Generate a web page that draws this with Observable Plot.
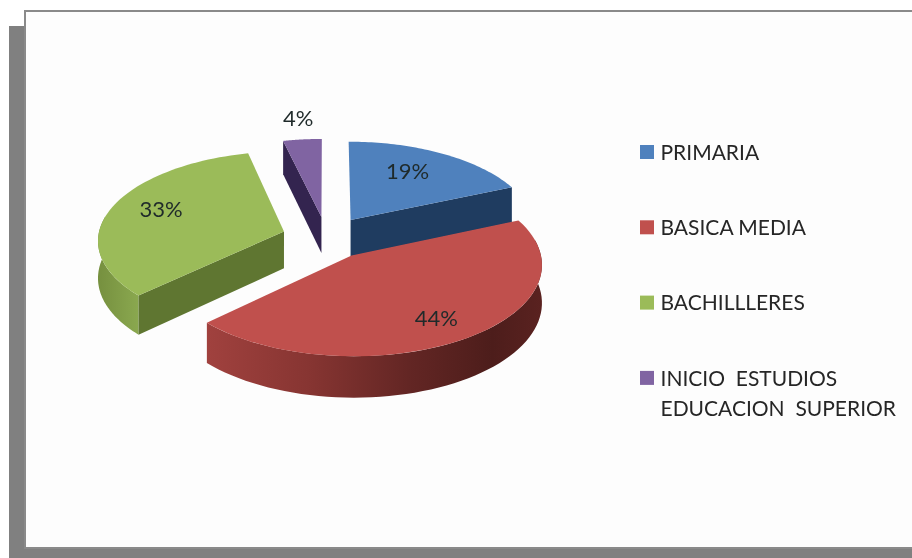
<!DOCTYPE html>
<html><head><meta charset="utf-8">
<script src="https://cdn.jsdelivr.net/npm/d3@7"></script>
<script src="https://cdn.jsdelivr.net/npm/@observablehq/plot@0.6"></script>
<style>html,body{margin:0;padding:0;background:#fff}svg{display:block}</style>
</head><body>
<script>
const categories = ["PRIMARIA", "BASICA MEDIA", "BACHILLLERES", "INICIO  ESTUDIOS\nEDUCACION  SUPERIOR"];
const shares = [18.5, 44.4, 33.4, 3.7];
const topColors = ["#4f81bd", "#c0504d", "#9bbb59", "#8064a2"];
const cutColors = ["#1f3c60", "#5a2220", "#5f7631", "#33244f"];
const rimColors = ["#1f3c60", "url(#redRim)", "url(#greenRim)", "#33244f"];
const labelRadii = [0.64, 0.8, 0.71, 1.24];
const labelTurn = [-2, 2.5, 0, 0];

// 3D pie camera
const cx = 326, cy = 237, R = 186, tilt = 0.475, persp = 0.089, explode = 0.24, depth = 37;
const project = (u, v, z) => {
  const s = 1 / (1 - persp * v);
  return {x: cx + R * u * s, y: cy + R * tilt * v * s + z * s};
};
const arcs = d3.pie().sort(null).value(d => d)(shares);
const slices = arcs.map((a, i) => {
  const mid = (a.startAngle + a.endAngle) / 2;
  const ou = explode * Math.sin(mid), ov = -explode * Math.cos(mid);
  const at = (ang, r, z) => project(ou + r * Math.sin(ang), ov - r * Math.cos(ang), z);
  return {i, mid, ov, at, start: a.startAngle, end: a.endAngle};
});
const range = (a0, a1) => d3.range(0, 61).map(k => a0 + (a1 - a0) * k / 60);
const fillPoly = (pts, fill) => Plot.line(pts, {x: "x", y: "y", fill, stroke: "none"});

const pieMarks = [];
for (const s of slices.slice().sort((a, b) => a.ov - b.ov)) {
  const apex = s.at(0, 0, 0), apexB = s.at(0, 0, depth), inner = s.at(s.mid, 1, 0);
  // outer rim wall
  const lo = Math.max(s.start, 80 * Math.PI / 180), hi = Math.min(s.end, 280 * Math.PI / 180);
  if (hi > lo) {
    const angs = range(lo, hi);
    pieMarks.push(fillPoly([...angs.map(t => s.at(t, 1, 0)), ...angs.slice().reverse().map(t => s.at(t, 1, depth))], rimColors[s.i]));
  }
  // cut walls that face the viewer
  for (const ang of [s.start, s.end]) {
    const rim = s.at(ang, 1, 0), rimB = s.at(ang, 1, depth);
    const dx = rim.x - apex.x, dy = rim.y - apex.y;
    const a = -dx, b = dx * (inner.y - apex.y) - dy * (inner.x - apex.x);
    if (a * b > 0 && Math.abs(dx) / Math.hypot(dx, dy) > 0.1) {
      pieMarks.push(fillPoly([apex, rim, rimB, apexB], cutColors[s.i]));
    }
  }
  pieMarks.push(fillPoly([apex, ...range(s.start, s.end).map(t => s.at(t, 1, 0))], topColors[s.i]));
}
const pctLabels = slices.map(s => ({...s.at(s.mid + labelTurn[s.i] * Math.PI / 180, labelRadii[s.i], 0), text: Math.round(shares[s.i]) + "%"}));

const legendRows = categories.map((c, i) => ({label: c, color: topColors[i], yc: 152 + 75.3 * i}));
const font = "Lato, 'Open Sans', sans-serif";

const defs = () => {
  const g = document.createElementNS("http://www.w3.org/2000/svg", "defs");
  g.innerHTML = `
   <linearGradient id="redRim" gradientUnits="userSpaceOnUse" x1="207" x2="542" y1="0" y2="0">
     <stop offset="0" stop-color="#a0413e"/><stop offset="0.3" stop-color="#873532"/>
     <stop offset="0.6" stop-color="#632624"/><stop offset="0.85" stop-color="#4d1d1b"/><stop offset="1" stop-color="#5a2220"/>
   </linearGradient>
   <linearGradient id="greenRim" gradientUnits="userSpaceOnUse" x1="98" x2="138" y1="0" y2="0">
     <stop offset="0" stop-color="#76903f"/><stop offset="1" stop-color="#8aa84f"/>
   </linearGradient>`;
  return g;
};

const chart = Plot.plot({
  width: 912, height: 558, margin: 0,
  style: {background: "#fff", fontFamily: font, whiteSpace: "pre", filter: "blur(0.4px)"},
  x: {domain: [0, 912], range: [0, 912], axis: null},
  y: {domain: [0, 558], range: [0, 558], axis: null},
  marks: [
    defs,
    Plot.rect([{}], {x1: 9, x2: 912, y1: 26, y2: 558, fill: "#808080"}),
    Plot.rect([{}], {x1: 25, x2: 914, y1: 11, y2: 548, fill: "#fdfdfd", stroke: "#8a8a8a", strokeWidth: 2}),
    ...pieMarks,
    Plot.text(pctLabels, {x: "x", y: "y", dy: -4, text: "text", fontSize: 22, fill: "#1f2a2a"}),
    Plot.rect(legendRows, {x1: () => 640, x2: () => 654, y1: d => d.yc - 7, y2: d => d.yc + 7, fill: "color"}),
    Plot.text(legendRows, {x: () => 660, y: d => d.yc - 14, text: "label", textAnchor: "start", lineAnchor: "top", lineHeight: 1.43, fontSize: 21, fill: "#262626"})
  ]
});
document.body.appendChild(chart);
</script>
</body></html>
